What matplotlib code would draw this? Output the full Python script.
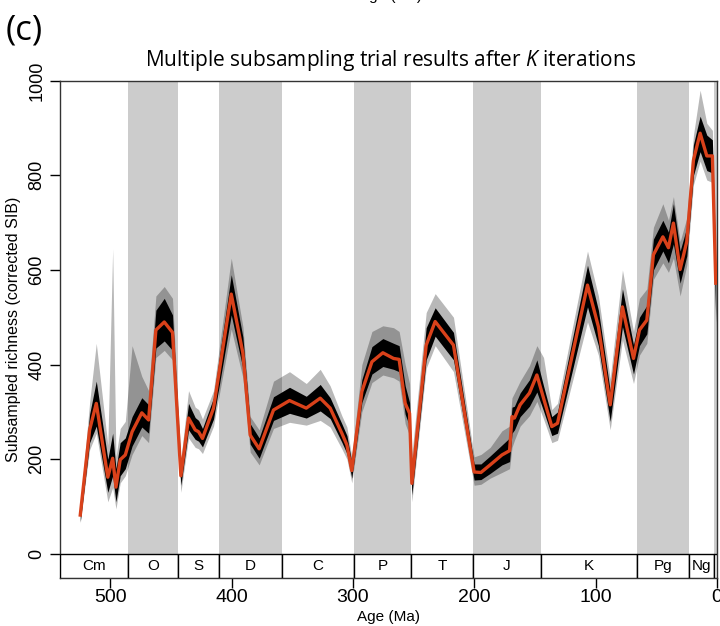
import numpy as np
import matplotlib
matplotlib.use("Agg")
import matplotlib.pyplot as plt

plt.rcParams['font.family'] = ['Liberation Sans Narrow', 'Liberation Sans', 'DejaVu Sans']
plt.rcParams['mathtext.fontset'] = 'custom'
plt.rcParams['mathtext.rm'] = 'Open Sans'
plt.rcParams['mathtext.it'] = 'Open Sans:italic'

# mean of the subsampling trials (red line)
ages = [524.7, 517, 511.5, 502, 498, 495.3, 491.8, 487.6, 482, 474, 468.4, 462.4,
        455.5, 448.7, 441.8, 435.5, 430, 427.2, 424, 414.9, 400.3, 390.7, 384.7,
        377.3, 365.5, 352.3, 338.5, 327, 318.8, 309.2, 305, 301, 292.7, 284.4,
        275.4, 266.6, 262, 257, 253.4, 251.5, 239.7, 232.3, 217.2, 200.2, 194.6,
        187, 177.3, 171, 169, 167, 162.3, 154.6, 148.5, 143, 136.2, 131.5, 106.8,
        97.8, 88.1, 78, 68.9, 64, 57.9, 52.5, 44.7, 40.1, 36, 30.5, 25, 19.5, 14,
        8.5, 3.9, 1.1]
mean_rich = [82, 262, 318, 162, 202, 141, 199, 209, 258, 298, 283, 473,
             490, 468, 165, 287, 262, 258, 244, 308, 549, 424, 251,
             222, 304, 324, 308, 329, 308, 255, 230, 176, 343, 406,
             425, 413, 411, 318, 297, 149, 441, 491, 441, 173, 172,
             188, 209, 218, 290, 287, 315, 340, 378, 329, 269, 276, 568,
             480, 315, 522, 413, 473, 494, 632, 670, 647, 699, 601, 660, 832, 889,
             841, 841, 572]
# dense black bundle of trials
core_lo = [68, 235, 270, 130, 165, 110, 165, 180, 228, 268, 255, 435,
           450, 430, 145, 262, 242, 238, 226, 285, 505, 392, 232,
           202, 282, 297, 287, 302, 286, 236, 212, 160, 320, 380,
           396, 390, 385, 295, 270, 125, 410, 460, 410, 156, 157,
           170, 188, 195, 255, 262, 290, 312, 342, 302, 250, 255, 522,
           440, 280, 480, 380, 440, 465, 600, 640, 615, 655, 572, 630, 800, 850,
           810, 805, 490]
core_hi = [95, 295, 365, 200, 255, 180, 235, 245, 290, 330, 315, 515,
           540, 505, 185, 318, 288, 282, 265, 330, 590, 458, 275,
           245, 332, 352, 333, 358, 330, 275, 250, 194, 368, 438,
           455, 445, 440, 355, 320, 175, 478, 520, 468, 190, 190,
           207, 230, 245, 310, 312, 340, 368, 410, 355, 290, 300, 610,
           515, 345, 560, 442, 500, 525, 665, 705, 680, 740, 640, 690, 865, 925,
           885, 875, 600]
# outermost single trials
out_lo = [65, 220, 255, 110, 140, 95, 150, 165, 210, 250, 235, 415,
          430, 410, 130, 245, 225, 222, 212, 270, 475, 372, 215,
          188, 265, 278, 272, 282, 268, 222, 200, 150, 300, 362,
          378, 372, 365, 275, 250, 110, 392, 440, 385, 145, 147,
          160, 172, 180, 225, 240, 270, 292, 322, 285, 235, 240, 490,
          420, 262, 452, 360, 420, 445, 580, 615, 595, 625, 545, 610, 780, 830,
          790, 785, 470]
out_hi = [100, 320, 445, 230, 645, 205, 265, 280, 440, 375, 345, 545,
          565, 540, 200, 345, 310, 305, 285, 345, 625, 480, 290,
          262, 365, 385, 360, 390, 355, 292, 268, 205, 400, 470,
          482, 478, 470, 400, 360, 210, 510, 550, 500, 205, 210,
          225, 260, 270, 330, 340, 365, 398, 440, 415, 305, 318, 640,
          545, 370, 600, 470, 540, 560, 690, 740, 705, 755, 660, 710, 885, 980,
          910, 895, 620]

# geological periods
periods = ['Cm', 'O', 'S', 'D', 'C', 'P', 'T', 'J', 'K', 'Pg', 'Ng', '']
p_old = [541, 485.4, 443.8, 410.7, 358.9, 298.9, 251.9, 201.3, 145, 66, 23.03, 2.58]
p_young = [485.4, 443.8, 410.7, 358.9, 298.9, 251.9, 201.3, 145, 66, 23.03, 2.58, 0]
p_shaded = [False, True, False, True, False, True, False, True, False, True, False, True]

fig = plt.figure(figsize=(7.2, 6.26), dpi=100)
ax = fig.add_axes([0.084, 0.0767, 0.912, 0.7944])

widths = np.array(p_old) - np.array(p_young)
for y0, w, sh in zip(p_young, widths, p_shaded):
    if sh:
        ax.bar(y0, 1000, width=w, bottom=0, align='edge', color='#cccccc', lw=0, zorder=1)

ax.fill_between(ages, out_lo, out_hi, color='black', alpha=0.28, lw=0, zorder=2)
ax.fill_between(ages, core_lo, core_hi, color='black', lw=0, zorder=3)
ax.plot(ages, mean_rich, color='#d9411a', lw=2.4, zorder=4)

# timescale boxes under zero
ax.bar(p_young, -51, width=widths, bottom=0, align='edge', facecolor='white',
       edgecolor='black', lw=1, zorder=5)
for name, a, b in zip(periods, p_old, p_young):
    ax.text((a + b) / 2, -25, name, ha='center', va='center', fontsize=11, zorder=6)

ax.set_xlim(541, 0)
ax.set_ylim(-51, 1000)
ax.set_xticks([500, 400, 300, 200, 100, 0])
ax.set_yticks([0, 200, 400, 600, 800, 1000])
ax.tick_params(axis='x', labelsize=14, length=7, width=1, pad=1)
ax.tick_params(axis='y', labelsize=13, length=7, width=1, pad=4, labelrotation=90)
for lab in ax.get_yticklabels():
    lab.set_va('center')
for s in ax.spines.values():
    s.set_color('#333333')
    s.set_linewidth(1)

ax.set_xlabel('Age (Ma)', fontsize=11, labelpad=3)
ax.set_ylabel('Subsampled richness (corrected SIB)', fontsize=11.5, labelpad=5)

fig.text(0.542, 0.904, r'Multiple subsampling trial results after $\it{K}$ iterations',
         ha='center', va='center', fontsize=15, family='Open Sans')
fig.text(0.008, 0.952, '(c)', ha='left', va='center', fontsize=25, family='Open Sans')
# tail of the panel above, cut by the figure edge
fig.text(0.542, 1.006, 'Age (Ma)', ha='center', va='center', fontsize=11)

fig.savefig('out.png', dpi=100)
